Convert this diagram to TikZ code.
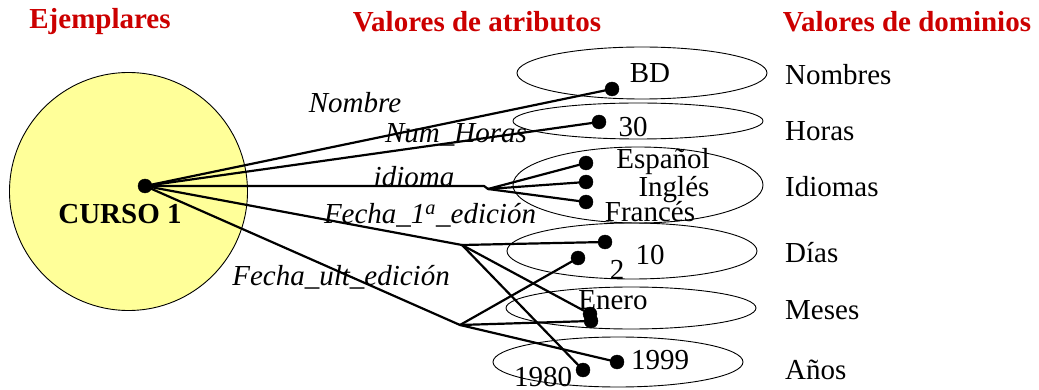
\documentclass[tikz,border=0pt]{standalone}
\usepackage{fontspec}
\setmainfont{Liberation Serif}
\usetikzlibrary{arrows}
\definecolor{titlered}{RGB}{204,0,0}
\definecolor{cursoyellow}{RGB}{255,255,153}

\begin{document}
\begin{tikzpicture}[line cap=round,line join=round,x=1pt,y=-1pt,
    valdot/.style={circle,draw,fill=black,minimum size=14pt,inner sep=0pt},
    titulo/.style={text=titlered,font=\fontsize{29}{32}\selectfont\bfseries,inner sep=0pt},
    atrib/.style={font=\fontsize{29}{32}\selectfont\itshape,inner sep=0pt},
    valor/.style={font=\fontsize{29}{32}\selectfont,inner sep=0pt},
    dominio/.style={font=\fontsize{29}{32}\selectfont,inner sep=0pt,anchor=west},
    enlace/.style={line width=2.2pt}]

    \useasboundingbox (0,0) rectangle (1039,390);

    % Titles
    \draw (100,22) node[titulo] (tEjem) {Ejemplares};
    \draw (477,22) node[titulo] (tAtrib) {Valores de atributos};
    \draw (907,22) node[titulo] (tDom) {Valores de dominios};

    \draw [line width=0.9pt, fill=cursoyellow] (128.5,191.5) circle (119pt);
    \draw (120,214) node[font=\fontsize{29}{32}\selectfont\bfseries,inner sep=0pt] (lCurso) {CURSO 1};

    % Domains
    \draw [line width=0.9pt] (642,73) ellipse [x radius=125pt, y radius=26pt];
    \draw [line width=0.9pt] (638,121) ellipse [x radius=125pt, y radius=18pt];
    \draw [line width=0.9pt] (638,185) ellipse [x radius=125pt, y radius=38pt];
    \draw [line width=0.9pt] (632,251) ellipse [x radius=125pt, y radius=28pt];
    \draw [line width=0.9pt] (631,308) ellipse [x radius=125pt, y radius=21pt];
    \draw [line width=0.9pt] (618,362) ellipse [x radius=125pt, y radius=25pt];

    \draw (785,75) node[dominio] (nNombres) {Nombres};
    \draw (785,131) node[dominio] (nHoras) {Horas};
    \draw (785,187) node[dominio] (nIdiomas) {Idiomas};
    \draw (785,253) node[dominio] (nDias) {Días};
    \draw (785,310) node[dominio] (nMeses) {Meses};
    \draw (785,370) node[dominio] (nAnos) {Años};

    % Values
    \draw (650,73) node[valor] (vBD) {BD};
    \draw (633,127) node[valor] (v30) {30};
    \draw (663,162) node[valor] (vEsp) {Español};
    \draw (674,190) node[valor] (vIng) {Inglés};
    \draw (650,212) node[valor] (vFra) {Francés};
    \draw (650,255) node[valor] (v10) {10};
    \draw (617,270) node[valor] (v2) {2};
    \draw (613,300) node[valor] (vEnero) {Enero};
    \draw (660,360) node[valor] (v1999) {1999};
    \draw (543,377) node[valor] (v1980) {1980};

    % Attributes
    \draw (355,103) node[atrib] (aNombre) {Nombre};
    \draw (456,135) node[atrib] (aHoras) {Num\_Horas};
    \draw (414,177) node[atrib] (aIdioma) {idioma};
    \draw (430,215) node[atrib] (aFecha1) {Fecha\_1\textsuperscript{a}\_edición};
    \draw (341,277) node[atrib] (aFechaU) {Fecha\_ult\_edición};

    \draw (145,186) node[valdot] (curso) {};
    \draw (612,89) node[valdot] (dBD) {};
    \draw (599,122) node[valdot] (d30) {};
    \draw (586,163) node[valdot] (dEsp) {};
    \draw (586,182) node[valdot] (dIng) {};
    \draw (586,202) node[valdot] (dFra) {};
    \draw (605,242) node[valdot] (d10) {};
    \draw (578,258) node[valdot] (d2) {};
    \draw (590,314) node[valdot] (dEnero) {};
    \draw (591,321) node[valdot] (dEneroB) {};
    \draw (617,362) node[valdot] (d1999) {};
    \draw (583,370) node[valdot] (d1980) {};

    \coordinate (idiomaEnd) at (484,186);
    \coordinate (jIdioma) at (488,189);
    \coordinate (jFecha1) at (462,245);
    \coordinate (jFechaU) at (460,325);

    % Links
    \draw[enlace] (curso) -- (dBD);
    \draw[enlace] (curso) -- (d30);
    \draw[enlace] (curso) -- (idiomaEnd) -- (jIdioma);
    \draw[enlace] (jIdioma) -- (dEsp);
    \draw[enlace] (jIdioma) -- (dIng);
    \draw[enlace] (jIdioma) -- (dFra);
    \draw[enlace] (curso) -- (jFecha1);
    \draw[enlace] (jFecha1) -- (d10);
    \draw[enlace] (jFecha1) -- (dEnero);
    \draw[enlace] (jFecha1) -- (d1980);
    \draw[enlace] (curso) -- (jFechaU);
    \draw[enlace] (jFechaU) -- (d2);
    \draw[enlace] (jFechaU) -- (dEneroB);
    \draw[enlace] (jFechaU) -- (d1999);
\end{tikzpicture}
\end{document}
